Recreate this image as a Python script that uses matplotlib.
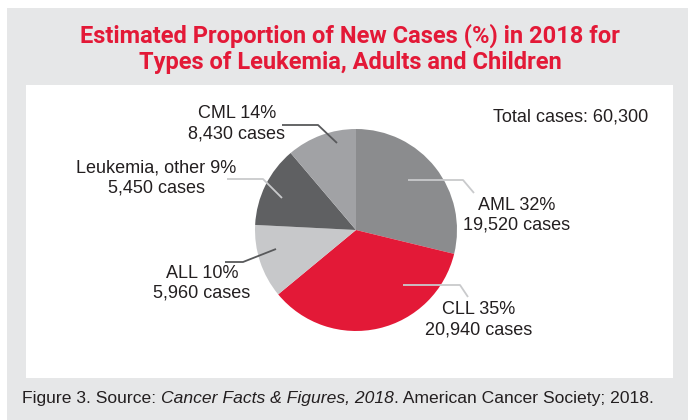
import matplotlib.pyplot as plt
from matplotlib.patches import Rectangle

# slice sizes as drawn in the figure (percent of the circle), clockwise from 12 o'clock
types = ['AML', 'CLL', 'ALL', 'Leukemia, other', 'CML']
slice_share = [28.8, 35.2, 11.8, 13.0, 11.2]
pct_labels = [32, 35, 10, 9, 14]
case_counts = ['19,520', '20,940', '5,960', '5,450', '8,430']
total_cases = '60,300'
colors = ['#8b8c8e', '#e31937', '#c7c8ca', '#5f6062', '#a1a2a5']

W, H = 688, 420
RED = '#e31937'
GREY_BG = '#e6e7e8'
TXT = '#231f20'
FS = 13


def Y(y):
    # pixel row (from top) -> data y (from bottom)
    return H - y


fig = plt.figure(figsize=(W / 100, H / 100), dpi=100)
fig.patch.set_facecolor('white')
ax = fig.add_axes([0, 0, 1, 1])

# grey card and white panel
ax.add_patch(Rectangle((7, Y(420)), W - 7, 420 - 8, fc=GREY_BG, ec='none', zorder=0))
ax.add_patch(Rectangle((26, Y(378)), 673 - 26, 378 - 85, fc='white', ec='none', zorder=0.5))

ax.pie(slice_share, colors=colors, startangle=90, counterclock=False,
       center=(356, Y(230)), radius=101, wedgeprops=dict(linewidth=0))
ax.set_xlim(0, W)
ax.set_ylim(0, H)
ax.set_aspect('auto')
ax.axis('off')

# title
ax.text(350, Y(36), 'Estimated Proportion of New Cases (%) in 2018 for',
        ha='center', va='center', color=RED, fontsize=17, fontweight='bold', family='Roboto')
ax.text(350, Y(63), 'Types of Leukemia, Adults and Children',
        ha='center', va='center', color=RED, fontsize=17, fontweight='bold', family='Roboto')

ax.text(648, Y(117), 'Total cases: ' + total_cases, ha='right', va='center',
        fontsize=FS, color=TXT, family='Liberation Sans')

# label positions (line1 centre x, y) and leader lines (pixel coords)
label_pos = [(517, 205), (479, 310), (202, 273), (156, 168), (237, 114)]
leaders = [
    [(408, 180), (463, 180), (474, 193)],
    [(403, 285), (460, 285), (468, 297)],
    [(225, 262), (243, 262), (276, 249)],
    [(227, 179), (263, 179), (282, 198)],
    [(282, 125), (318, 125), (337, 143)],
]
line_cols = ['#c9cacc', '#c9cacc', '#58595b', '#c9cacc', '#58595b']

for name, pct, cases, (lx, ly), pts, lc in zip(types, pct_labels, case_counts,
                                              label_pos, leaders, line_cols):
    ax.text(lx, Y(ly), f'{name} {pct}%', ha='center', va='center',
            fontsize=FS, color=TXT, family='Liberation Sans')
    ax.text(lx, Y(ly + 20), f'{cases} cases', ha='center', va='center',
            fontsize=FS, color=TXT, family='Liberation Sans')
    ax.plot([p[0] for p in pts], [Y(p[1]) for p in pts], color=lc, lw=1.3,
            solid_capstyle='butt', zorder=3)

# caption with italic part
c1 = ax.text(22, Y(399), 'Figure 3. Source: ', ha='left', va='center',
             fontsize=12.6, color=TXT, family='Liberation Sans')
c2 = ax.annotate('Cancer Facts & Figures, 2018', xy=(1, 0), xycoords=c1,
                 ha='left', va='bottom', fontsize=12.6, style='italic',
                 color=TXT, family='Liberation Sans')
ax.annotate('. American Cancer Society; 2018.', xy=(1, 0), xycoords=c2,
            ha='left', va='bottom', fontsize=12.6, color=TXT,
            family='Liberation Sans')

fig.savefig('out.png', dpi=100)
plt.close(fig)
